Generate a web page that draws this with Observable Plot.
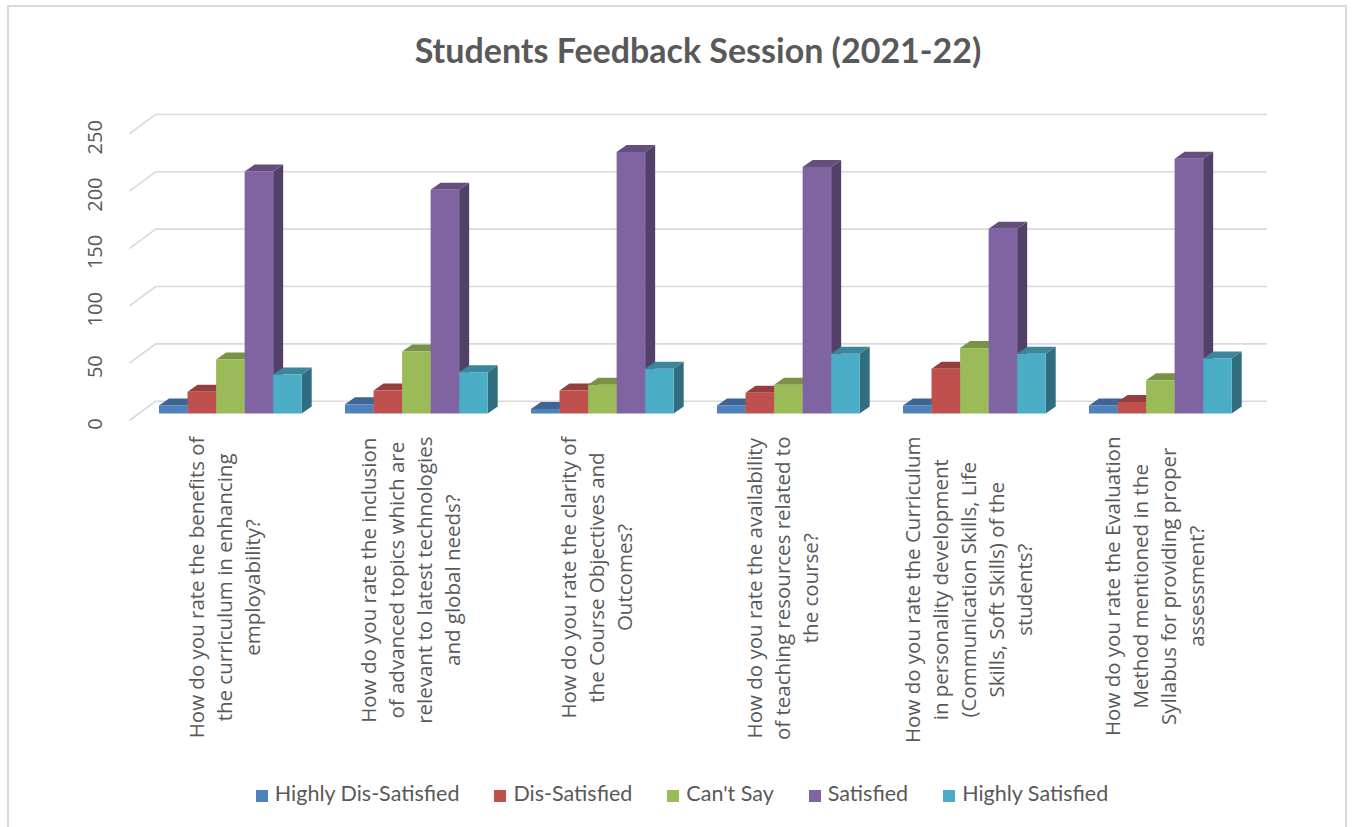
<!DOCTYPE html>
<html>
<head>
<meta charset="utf-8">
<script src="https://cdn.jsdelivr.net/npm/d3@7"></script>
<script src="https://cdn.jsdelivr.net/npm/@observablehq/plot@0.6"></script>
<style>
  body { margin: 0; background: #fff; }
  #wrap { position: relative; width: 1352px; height: 827px; overflow: hidden; font-family: "Open Sans", sans-serif; }
  #frame { position: absolute; left: 7px; top: 5px; width: 1340px; height: 860px; border: 2px solid #d9d9d9; box-sizing: border-box; }
  #title { position: absolute; top: 28px; left: 0; width: 1396px; text-align: center; font: 700 34px Lato, sans-serif; line-height: 44px; color: #595959; }
  #chart { position: absolute; top: 90px; left: 0; }
  #legend { position: absolute; top: 780px; left: 6px; width: 1352px; display: flex; justify-content: center; align-items: center; font: 21.5px Lato, sans-serif; color: #595959; }
  .item { display: flex; align-items: center; margin-right: 35px; }
  .item:last-child { margin-right: 0; }
  .key { width: 12px; height: 12px; margin-right: 7px; margin-top: 5px; }
</style>
</head>
<body>
<div id="wrap">
  <div id="frame"></div>
  <div id="title"></div>
  <div id="chart"></div>
  <div id="legend"></div>
</div>
<script>
// ---- data ----
const chartTitle = "Students Feedback Session (2021-22)";
const questions = [
  "How do you rate the benefits of\nthe curriculum in enhancing\nemployability?",
  "How do you rate the inclusion\nof advanced topics which are\nrelevant to latest technologies\nand global needs?",
  "How do you rate the clarity of\nthe Course Objectives and\nOutcomes?",
  "How do you rate the availability\nof teaching resources related to\nthe course?",
  "How do you rate the Curriculum\nin personality development\n(Communication Skills, Life\nSkills, Soft Skills) of the\nstudents?",
  "How do you rate the Evaluation\nMethod mentioned in the\nSyllabus for providing proper\nassessment?"
];
const series = ["Highly Dis-Satisfied", "Dis-Satisfied", "Can't Say", "Satisfied", "Highly Satisfied"];
const highlyDisSatisfied = [7, 8, 4, 7, 7, 7];
const disSatisfied = [19, 20, 20, 18, 39, 10];
const cantSay = [47, 54, 25, 25, 57, 29];
const satisfied = [211, 195, 228, 215, 161, 222];
const highlySatisfied = [34, 36, 39, 52, 52, 48];
const yTicks = [0, 50, 100, 150, 200, 250];
const colors = ["#4F81BD", "#C0504D", "#9BBB59", "#8064A2", "#4BACC6"];
const values = [highlyDisSatisfied, disSatisfied, cantSay, satisfied, highlySatisfied];

// ---- layout constants (pixels) ----
const W = 1352, H = 680;
const xRange = [138, 1254];     // domain [0, 6]
const yRange = [323.5, 36.75];  // domain [0, 250]
const pxX = (xRange[1] - xRange[0]) / 6;
const pxY = (yRange[0] - yRange[1]) / 250;
const groupOff = 21 / pxX;
const bw = 142.7 / 5 / pxX;
const depthX = 10 / pxX, depthY = 7 / pxY;
const gridColor = "#d9d9d9", textColor = "#595959";
const catFont = '"Open Sans"';
const catFs = 20.5, catLine = 28;
const labelTop = 346;

function shade(hex, k) {
  const c = d3.rgb(hex);
  return d3.rgb(c.r * k, c.g * k, c.b * k).formatHex();
}

// bars
const bars = [];
questions.forEach((q, i) => series.forEach((s, j) => {
  const v = values[j][i];
  const x1 = i + groupOff + j * bw;
  bars.push({i, j, v, x1, x2: x1 + bw, key: i + "-" + j, fill: colors[j]});
}));
const sides = bars.flatMap(b => {
  const f = shade(colors[b.j], 0.64);
  return [
    {key: b.key, x: b.x2, y1: 0, y2: b.v, fill: f},
    {key: b.key, x: b.x2 + depthX, y1: depthY, y2: b.v + depthY, fill: f}
  ];
});
const tops = bars.flatMap(b => {
  const f = shade(colors[b.j], 0.78);
  return [
    {key: b.key, x: b.x1, y1: b.v, y2: b.v, fill: f},
    {key: b.key, x: b.x1 + depthX, y1: b.v, y2: b.v + depthY, fill: f},
    {key: b.key, x: b.x2, y1: b.v, y2: b.v + depthY, fill: f},
    {key: b.key, x: b.x2 + depthX, y1: b.v + depthY, y2: b.v + depthY, fill: f}
  ];
});

// category labels: block top aligned, lines centred
const ctx = document.createElement("canvas").getContext("2d");
ctx.font = `${catFs}px ${catFont}`;
const labels = questions.map((q, i) => {
  const w = d3.max(q.split("\n"), l => ctx.measureText(l).width);
  return {i, text: q, y: (yRange[0] - (labelTop + w / 2)) / pxY};
});

// grid geometry
const backDX = 17.2, backDY = -12.8;
const frontX = (129 - xRange[0]) / pxX, frontYOff = -6.5 / pxY;
const backX = backDX / pxX, backYOff = -backDY / pxY;

const plot = Plot.plot({
  width: W,
  height: H,
  margin: 0,
  style: {fontFamily: '"Open Sans", sans-serif', background: "transparent", overflow: "visible"},
  x: {domain: [0, 6], range: xRange, axis: null},
  y: {domain: [0, 250], range: yRange, axis: null},
  color: {type: "identity"},
  marks: [
    Plot.ruleY(yTicks, {y: d => d, x1: 0, x2: 5.977, dx: backDX, dy: backDY, stroke: gridColor, strokeWidth: 1.6}),
    Plot.link(yTicks, {x1: frontX, y1: d => d + frontYOff, x2: backX, y2: d => d + backYOff, stroke: gridColor, strokeWidth: 1.6}),
    Plot.text(yTicks, {x: 0, y: d => d, text: d => String(d), rotate: -90, dx: -42.5, dy: 10, fontSize: 20, fontFamily: catFont, fill: textColor}),
    Plot.areaY(sides, {x: "x", y1: "y1", y2: "y2", z: "key", fill: "fill", curve: "linear"}),
    Plot.areaY(tops, {x: "x", y1: "y1", y2: "y2", z: "key", fill: "fill", curve: "linear"}),
    Plot.rect(bars, {x1: "x1", x2: "x2", y1: 0, y2: "v", fill: "fill"}),
    Plot.text(labels, {x: d => d.i + 0.5, y: "y", text: "text", rotate: -90, dx: -8, fontSize: catFs, fontFamily: catFont, lineHeight: catLine / catFs, textAnchor: "middle", lineAnchor: "middle", fill: textColor})
  ]
});
document.getElementById("chart").appendChild(plot);

document.getElementById("title").textContent = chartTitle;
const legend = d3.select("#legend");
series.forEach((s, j) => {
  const it = legend.append("div").attr("class", "item");
  it.append("div").attr("class", "key").style("background", colors[j]);
  it.append("span").text(s);
});
</script>
</body>
</html>
